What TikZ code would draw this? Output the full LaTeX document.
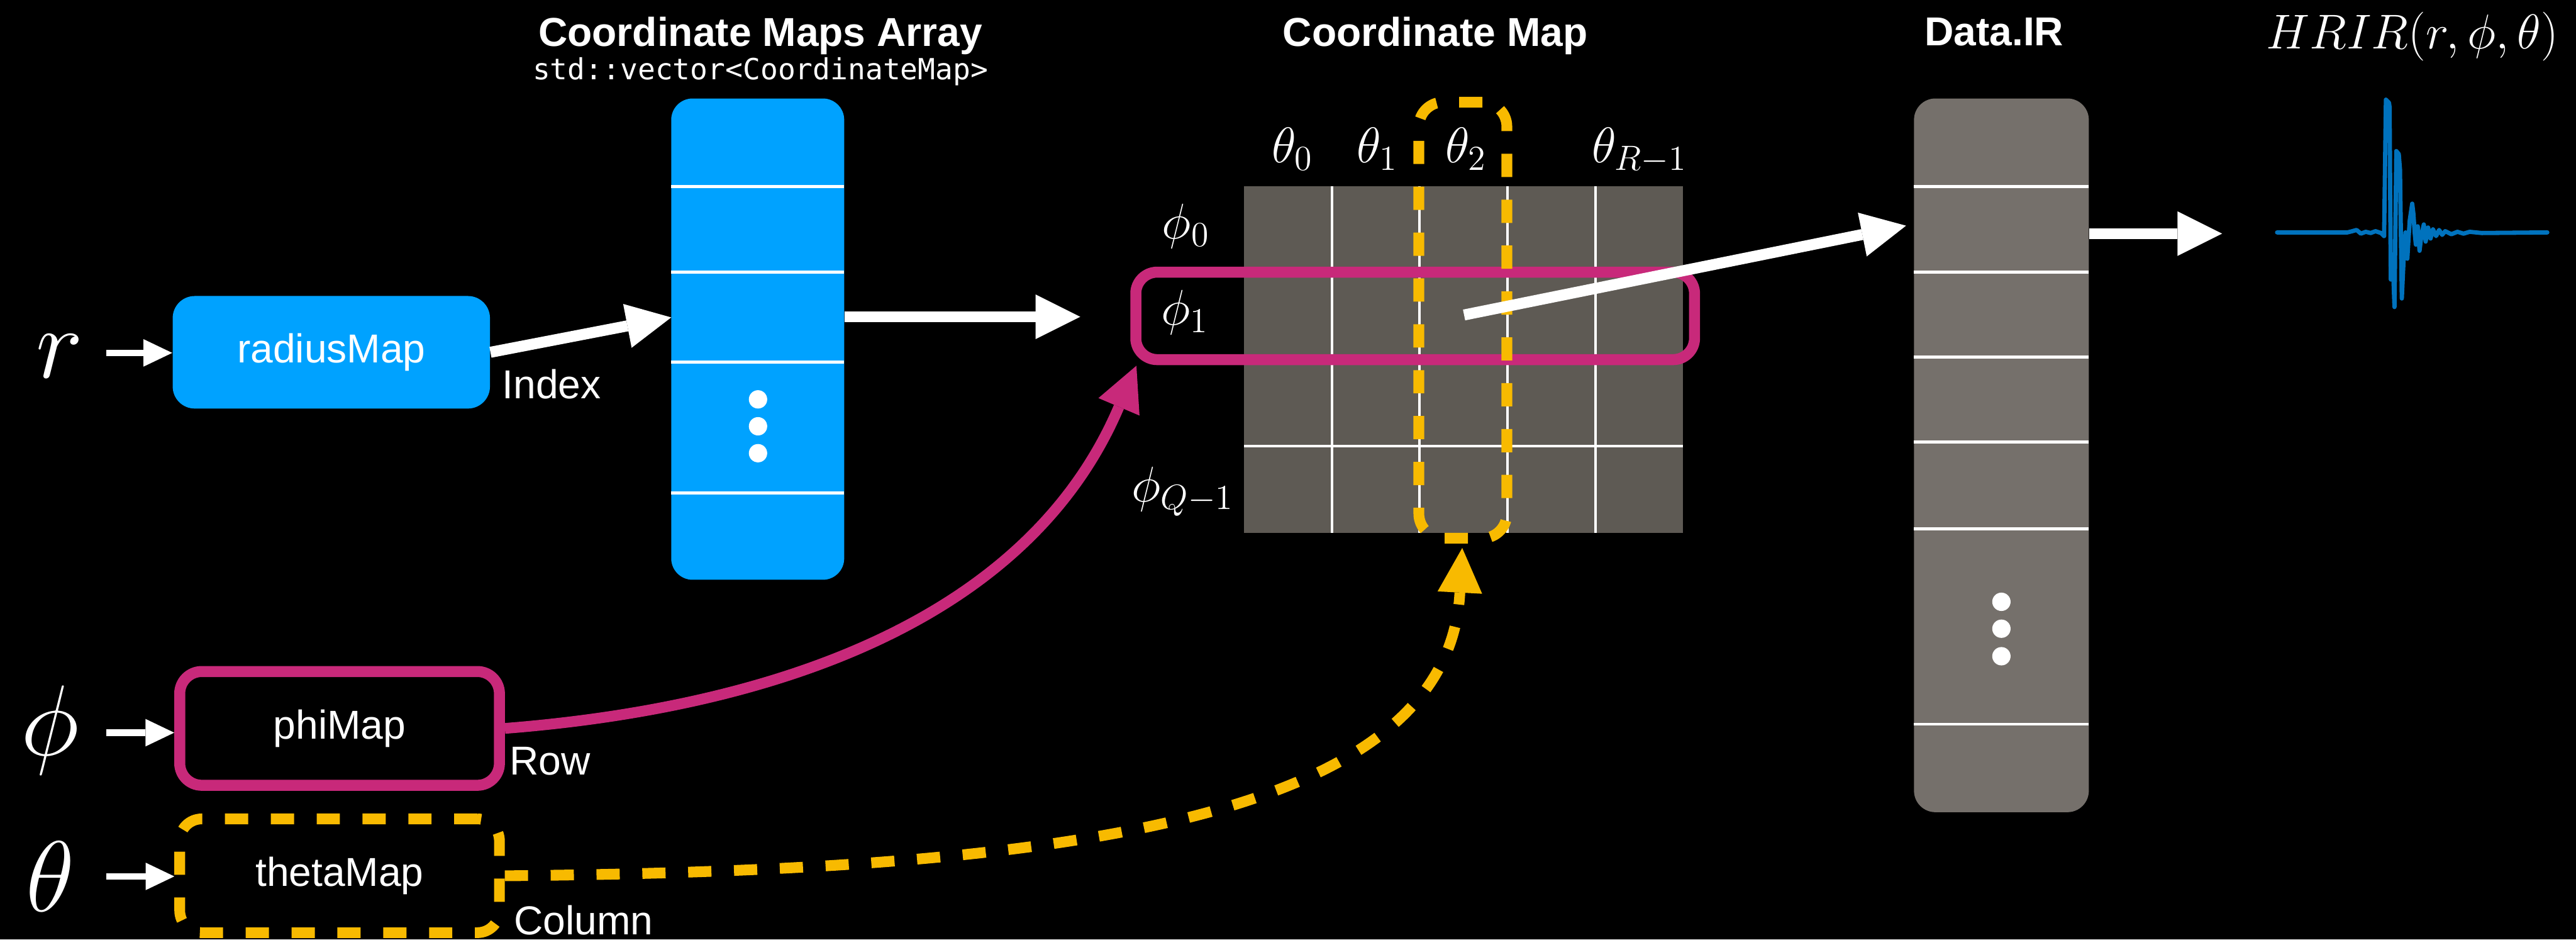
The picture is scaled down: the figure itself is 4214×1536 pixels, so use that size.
\documentclass[tikz,border=0pt]{standalone}
\usepackage{fix-cm}
\usepackage{fontspec}
\newfontfamily\hel{Liberation Sans}
\newfontfamily\monofam{DejaVu Sans Mono}
\usetikzlibrary{arrows.meta}
\definecolor{cblue}{RGB}{0,162,255}
\definecolor{cmag}{RGB}{200,41,122}
\definecolor{cyel}{RGB}{248,186,0}
\definecolor{cgrid}{RGB}{94,90,84}
\definecolor{cir}{RGB}{117,112,107}
\definecolor{cwave}{RGB}{0,114,189}
\tikzset{
  lbl/.style={text=white, inner sep=0pt, font=\hel\fontsize{16.5pt}{19pt}\selectfont},
  ttl/.style={text=white, inner sep=0pt, font=\hel\bfseries\fontsize{16.5pt}{19pt}\selectfont},
  biglbl/.style={text=white, inner sep=0pt, font=\fontsize{41pt}{48pt}\selectfont},
  mathlbl/.style={text=white, inner sep=0pt, font=\fontsize{20.5pt}{24pt}\selectfont},
  mapbox/.style={rounded corners=9pt, inner sep=0pt, text=white, font=\hel\fontsize{16.5pt}{19pt}\selectfont},
  bigtip/.style={-{Triangle[length=18.25pt,width=18.25pt,line width=0pt]}},
  bigarrow/.style={white, line width=4.5pt, bigtip},
  smallarrow/.style={white, line width=2.75pt, -{Triangle[length=11.75pt,width=11.25pt,line width=0pt]}},
  sepline/.style={white, line width=1.2pt},
  ydash/.style={draw=cyel, line width=4.4pt, dash pattern=on 9.5pt off 9.25pt},
  colbar/.style={inner sep=0pt, rounded corners=8.75pt},
}
\begin{document}
\begin{tikzpicture}[x=0.25pt,y=-0.25pt]
\fill[black] (0,0) rectangle (4214,1536);
\useasboundingbox (0,0) rectangle (4214,1536);

% titles
\node[ttl, anchor=base] (t1) at (1244,76) {Coordinate Maps Array};
\node[text=white, inner sep=0pt, anchor=base, font=\monofam\fontsize{11.9pt}{14pt}\selectfont] (t1s) at (1244,130) {std::vector<CoordinateMap>};
\node[ttl, anchor=base] (t2) at (2348,76) {Coordinate Map};
\node[ttl, anchor=base] (t3) at (3262,75) {Data.IR};
\node[text=white, inner sep=0pt, anchor=base, font=\fontsize{20pt}{24pt}\selectfont] (t4) at (3946,80) {$HRIR(r,\phi,\theta)$};

% inputs
\node[biglbl, anchor=base] (r) at (98,618) {$r$};
\node[biglbl, anchor=base] (phi) at (82,1235) {$\phi$};
\node[biglbl, anchor=base] (th) at (82,1490) {$\theta$};

% map boxes
\node[mapbox, fill=cblue, minimum width=129.75pt, minimum height=46pt] (rm) at (542,576) {radiusMap};
\node[mapbox, draw=cmag, line width=4.5pt, minimum width=130.75pt, minimum height=46.5pt] (pm) at (555.5,1191) {phiMap};
\node[mapbox, ydash, minimum width=130.75pt, minimum height=46.5pt] (tm) at (555.5,1432) {thetaMap};

\node[lbl, anchor=base west] (idx) at (821,652) {Index};
\node[lbl, anchor=base west] (rowl) at (833,1267) {Row};
\node[lbl, anchor=base west] (coll) at (840,1528) {Column};

% coordinate maps array
\node[colbar, fill=cblue, minimum width=70.75pt, minimum height=196.75pt] (arr) at (1239.5,554.5) {};
\foreach \y in {305,445,592,806} \draw[sepline] (1098,\y) -- (1381,\y);
\foreach \y in {653,697,741} \fill[white] (1240,\y) circle (3.75pt);

% coordinate map grid
\node[fill=cgrid, inner sep=0pt, minimum width=179.5pt, minimum height=141.5pt] (cm) at (2394,588) {};
\foreach \x in {2179,2322,2466,2610} \draw[sepline] (\x,305) -- (\x,871);
\foreach \y in {446.5,588,729.5} \draw[sepline] (2035,\y) -- (2753,\y);

\node[mathlbl, anchor=base] (th0) at (2114,266) {$\theta_0$};
\node[mathlbl, anchor=base] (th1) at (2253,266) {$\theta_1$};
\node[mathlbl, anchor=base] (th2) at (2398,266) {$\theta_2$};
\node[mathlbl, anchor=base] (thR) at (2682,266) {$\theta_{R-1}$};
\node[mathlbl, anchor=base] (ph0) at (1940,390) {$\phi_0$};
\node[mathlbl, anchor=base] (ph1) at (1938,531) {$\phi_1$};
\node[mathlbl, anchor=base] (phQ) at (1935,820) {$\phi_{Q-1}$};

% highlight boxes
\node[draw=cmag, line width=4.5pt, rounded corners=8.75pt, inner sep=0pt, minimum width=228.5pt, minimum height=35.75pt] (rowbox) at (2315,516.5) {};
\node[ydash, rounded corners=10pt, inner sep=0pt, minimum width=36pt, minimum height=178.25pt] (colbox) at (2393,523.5) {};

% Data.IR
\node[colbar, fill=cir, minimum width=71.5pt, minimum height=291.75pt] (ir) at (3274,744.5) {};
\foreach \y in {305,445,584,723,865,1184} \draw[sepline] (3131,\y) -- (3417,\y);
\foreach \y in {984,1028,1073} \fill[white] (3274,\y) circle (3.75pt);

% input arrows
\coordinate (rs) at (174,577);
\coordinate (ps) at (174,1198);
\coordinate (ts) at (174,1433);
\draw[smallarrow] (rs) -- (rs -| rm.west);
\draw[smallarrow] (ps) -- (ps -| pm.west);
\draw[smallarrow] (ts) -- (ts -| tm.west);

% main arrows
\coordinate (arrIn) at (1098,519);
\draw[bigarrow] (rm.east) -- (arrIn);
\coordinate (cmIn) at (1767,518);
\draw[bigarrow] (arr.east |- cmIn) -- (cmIn);
\coordinate (cell) at (2395,515);
\coordinate (irIn) at (3118,369);
\draw[bigarrow] (cell) -- (irIn);
\coordinate (wfIn) at (3635,382);
\draw[bigarrow] (ir.east |- wfIn) -- (wfIn);

% row / column curves
\coordinate (rowIn) at (1859,598);
\draw[cmag, line width=4.4pt, bigtip] (pm.east) .. controls (1271,1156) and (1683,1012) .. (rowIn);
\coordinate (colIn) at (2392,896);
\draw[ydash, cyel, bigtip] (tm.east) .. controls (1722,1424) and (2368,1346) .. (colIn);

% waveform
\draw[cwave, line width=1.75pt, line join=round, line cap=round]
 (3725,380) -- (3840,380) -- (3848,378) -- (3855,376) -- (3862,382) -- (3870,379) -- (3878,381) -- (3886,378) -- (3895,381) -- (3900,386)
 -- (3903,163) -- (3908,168) -- (3909,175) -- (3911,457) -- (3914,420) -- (3917,502) -- (3920,247) -- (3924,252) -- (3926,277)
 -- (3929,488) -- (3932,423) -- (3935,380) -- (3938,423) -- (3940,390) -- (3942,360) -- (3946,333) -- (3948,350) -- (3950,380)
 -- (3952,400) -- (3955,370) -- (3958,410) -- (3961,385) -- (3965,367) -- (3968,395) -- (3972,372) -- (3976,390) -- (3980,375)
 -- (3985,386) -- (3990,376) -- (3995,384) -- (4000,378) -- (4010,383) -- (4020,379) -- (4030,382) -- (4040,379) -- (4060,381) -- (4167,380);
\end{tikzpicture}
\end{document}
